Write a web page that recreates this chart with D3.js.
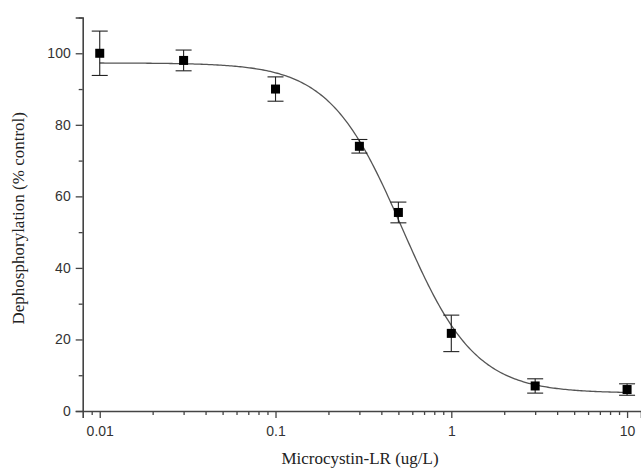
<!DOCTYPE html>
<html>
<head>
<meta charset="utf-8">
<script src="https://cdn.jsdelivr.net/npm/d3@7"></script>
<style>
  html, body { margin: 0; padding: 0; background: #fff; }
  svg { display: block; }
</style>
</head>
<body>
<svg id="chart" width="641" height="468"></svg>
<script>
// Concentrations of microcystin-LR (ug/L)
const concentrations = [0.01, 0.03, 0.1, 0.3, 0.5, 1, 3, 10];
// Mean dephosphorylation (% of control)
const meanValues = [100, 98, 90, 74, 55.5, 21.7, 7, 6];
// Error bar half-lengths
const errorValues = [6.2, 2.9, 3.4, 1.9, 2.9, 5.1, 2, 1.6];

// Axis tick labels
const xTickValues = [0.01, 0.1, 1, 10];
const xTickLabels = ["0.01", "0.1", "1", "10"];
const yTickValues = [0, 20, 40, 60, 80, 100];

// Dose-response (logistic) fit parameters
const fitTop = 97.3;
const fitBottom = 5;
const fitIC50 = 0.525;
const fitHill = 2.1;

const svg = d3.select("#chart");
const margin = { left: 82.7, right: 0, top: 17.5, bottom: 57 };
const W = 641, H = 468;

const x = d3.scaleLog().domain([0.008, 12]).range([margin.left, W - margin.right]);
const y = d3.scaleLinear().domain([0, 110]).range([H - margin.bottom, margin.top]);

const axisColor = "#444";
const tickFont = "'Liberation Sans', Arial, sans-serif";
const titleFont = "'Liberation Serif', 'Times New Roman', serif";

// Minor x ticks (2..9 in each decade)
const xMinor = [];
[0.001, 0.01, 0.1, 1].forEach(d => {
  for (let k = 2; k <= 9; k++) {
    const v = d * k;
    if (v > 0.0085 && v < 12 && !xTickValues.includes(+v.toFixed(4))) xMinor.push(v);
  }
});
const yMinor = [10, 30, 50, 70, 90, 110];

// X axis
const xAxis = svg.append("g").attr("transform", `translate(0,${y(0)})`);
xAxis.call(d3.axisBottom(x).tickValues(xTickValues).tickFormat((d, i) => xTickLabels[i]).tickSize(7).tickPadding(8));
xAxis.append("g").call(d3.axisBottom(x).tickValues(xMinor).tickFormat("").tickSize(4))
  .select(".domain").remove();

// Y axis
const yAxis = svg.append("g").attr("transform", `translate(${x.range()[0]},0)`);
yAxis.call(d3.axisLeft(y).tickValues(yTickValues).tickSize(7).tickPadding(5));
yAxis.append("g").call(d3.axisLeft(y).tickValues(yMinor).tickFormat("").tickSize(4))
  .select(".domain").remove();

svg.selectAll(".domain").attr("stroke", axisColor).attr("stroke-width", 1.6);
svg.selectAll(".tick line").attr("stroke", axisColor).attr("stroke-width", 1.3);
svg.selectAll(".tick text")
  .attr("font-family", tickFont)
  .attr("font-size", 14)
  .attr("fill", "#333");

// Fitted dose-response curve
const fit = c => fitBottom + (fitTop - fitBottom) / (1 + Math.pow(c / fitIC50, fitHill));
const curveX = d3.range(0, 301).map(i => Math.pow(10, -2 + 3 * i / 300));
svg.append("path")
  .datum(curveX)
  .attr("fill", "none")
  .attr("stroke", "#555")
  .attr("stroke-width", 1.3)
  .attr("d", d3.line().x(c => x(c)).y(c => y(fit(c))));

// Error bars
const data = concentrations.map((c, i) => ({ c, m: meanValues[i], e: errorValues[i] }));
const capW = 8;
const eb = svg.append("g").attr("stroke", "#222").attr("stroke-width", 1.1);
data.forEach(d => {
  const cx = x(d.c);
  eb.append("line").attr("x1", cx).attr("x2", cx).attr("y1", y(d.m - d.e)).attr("y2", y(d.m + d.e));
  eb.append("line").attr("x1", cx - capW).attr("x2", cx + capW).attr("y1", y(d.m + d.e)).attr("y2", y(d.m + d.e));
  eb.append("line").attr("x1", cx - capW).attr("x2", cx + capW).attr("y1", y(d.m - d.e)).attr("y2", y(d.m - d.e));
});

// Square markers
const ms = 9;
svg.append("g").selectAll("rect").data(data).join("rect")
  .attr("x", d => x(d.c) - ms / 2)
  .attr("y", d => y(d.m) - ms / 2)
  .attr("width", ms).attr("height", ms)
  .attr("fill", "#000");

// Axis titles
svg.append("text")
  .attr("x", 360).attr("y", 464)
  .attr("text-anchor", "middle")
  .attr("font-family", titleFont)
  .attr("font-size", 17)
  .attr("fill", "#222")
  .text("Microcystin-LR (ug/L)");

svg.append("text")
  .attr("transform", `translate(24,${(y(0) + y(110)) / 2 + 4}) rotate(-90)`)
  .attr("text-anchor", "middle")
  .attr("font-family", titleFont)
  .attr("font-size", 17)
  .attr("fill", "#222")
  .text("Dephosphorylation (% control)");
</script>
</body>
</html>
